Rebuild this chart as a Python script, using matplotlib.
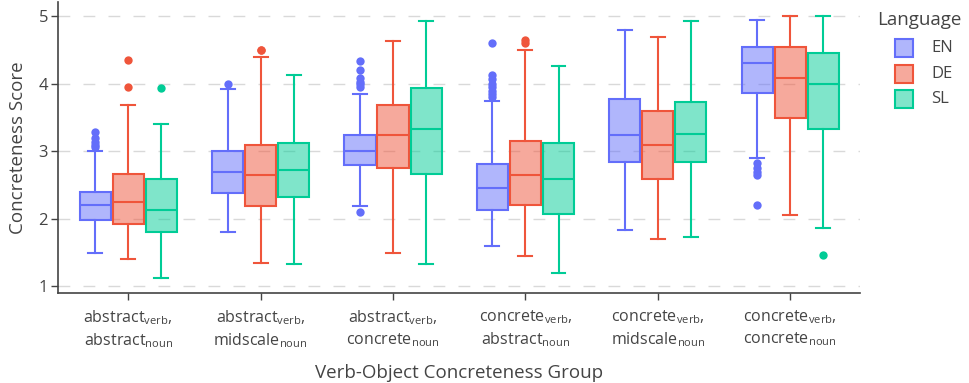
import matplotlib
matplotlib.use("Agg")
import matplotlib.pyplot as plt
from matplotlib.patches import Rectangle
import numpy as np

plt.rcParams['font.family'] = ['Open Sans', 'DejaVu Sans']
plt.rcParams['mathtext.fontset'] = 'custom'
plt.rcParams['mathtext.rm'] = 'Open Sans'

# ---- data ----
verb_groups = ["abstract", "abstract", "abstract", "concrete", "concrete", "concrete"]
noun_groups = ["abstract", "midscale", "concrete", "abstract", "midscale", "concrete"]
languages = ["EN", "DE", "SL"]
colors = ["#636EFA", "#EF553B", "#00CC96"]

en_q1 = [1.99, 2.38, 2.80, 2.13, 2.84, 3.87]
en_med = [2.20, 2.69, 3.00, 2.45, 3.24, 4.30]
en_q3 = [2.40, 3.00, 3.24, 2.81, 3.77, 4.55]
en_lo = [1.50, 1.80, 2.19, 1.60, 1.84, 2.90]
en_hi = [3.00, 3.92, 3.85, 3.75, 4.79, 4.95]
en_out = [[3.29, 3.20, 3.14, 3.10, 3.07],
          [4.00],
          [4.33, 4.20, 4.08, 4.03, 4.00, 3.95, 2.10],
          [4.60, 4.13, 4.07, 4.00, 3.95, 3.90, 3.85, 3.80],
          [],
          [2.82, 2.75, 2.70, 2.65, 2.20]]

de_q1 = [1.93, 2.19, 2.75, 2.20, 2.59, 3.50]
de_med = [2.25, 2.65, 3.24, 2.65, 3.10, 4.09]
de_q3 = [2.67, 3.10, 3.69, 3.15, 3.59, 4.55]
de_lo = [1.40, 1.35, 1.50, 1.45, 1.70, 2.05]
de_hi = [3.69, 4.39, 4.64, 4.50, 4.69, 5.00]
de_out = [[4.35, 3.95], [4.50, 4.50], [], [4.60, 4.65], [], []]

sl_q1 = [1.80, 2.33, 2.67, 2.07, 2.84, 3.33]
sl_med = [2.13, 2.72, 3.33, 2.59, 3.26, 3.99]
sl_q3 = [2.59, 3.13, 3.93, 3.13, 3.73, 4.46]
sl_lo = [1.13, 1.33, 1.33, 1.20, 1.73, 1.86]
sl_hi = [3.40, 4.13, 4.93, 4.26, 4.93, 5.00]
sl_out = [[3.93], [], [], [], [], [1.46]]

series = [
    (en_q1, en_med, en_q3, en_lo, en_hi, en_out),
    (de_q1, de_med, de_q3, de_lo, de_hi, de_out),
    (sl_q1, sl_med, sl_q3, sl_lo, sl_hi, sl_out),
]

tick_labels = [f"{v}$_{{\\mathregular{{verb}}}}$,\n{n}$_{{\\mathregular{{noun}}}}$"
               for v, n in zip(verb_groups, noun_groups)]

# ---- figure ----
W, H = 970, 383
fig = plt.figure(figsize=(9.7, 3.83), dpi=100)
ax = fig.add_axes([57.7 / W, 1 - 292.7 / H, (860 - 57.7) / W, (292.7 - 2) / H])

x = np.arange(len(verb_groups))
offsets = [-0.25, 0.0, 0.25]
box_w = 0.235

for (q1, med, q3, lo, hi, out), col, off in zip(series, colors, offsets):
    stats = []
    for i in range(len(x)):
        stats.append(dict(q1=q1[i], med=med[i], q3=q3[i], whislo=lo[i], whishi=hi[i],
                          fliers=np.array(out[i])))
    rgb = matplotlib.colors.to_rgb(col)
    ax.bxp(stats, positions=x + off, widths=box_w, capwidths=0.105,
           patch_artist=True, showfliers=True,
           boxprops=dict(facecolor=(*rgb, 0.5), edgecolor=col, linewidth=1.5),
           medianprops=dict(color=col, linewidth=1.5),
           whiskerprops=dict(color=col, linewidth=1.5),
           capprops=dict(color=col, linewidth=1.5),
           flierprops=dict(marker='o', markerfacecolor=col, markeredgewidth=0,
                           markersize=6),
           manage_ticks=False, zorder=3)

ax.set_xlim(-0.533, 5.527)
ax.set_ylim(0.907, 5.21)
ax.set_yticks([1, 2, 3, 4, 5])
ax.set_xticks(x)
ax.set_xticklabels(tick_labels, fontsize=11.5, color="#444444", linespacing=1.35)
ax.tick_params(axis='y', labelsize=12, colors="#444444", length=5, width=1, pad=2)
ax.tick_params(axis='x', length=5, width=1, colors="#444444", pad=6)

ax.yaxis.grid(True, color="#d9d9d9", linewidth=1, linestyle=(0, (8.5, 9.5)))
ax.set_axisbelow(True)
for s in ["top", "right"]:
    ax.spines[s].set_visible(False)
for s in ["left", "bottom"]:
    ax.spines[s].set_color("#444444")
    ax.spines[s].set_linewidth(1.2)

ax.set_xlabel("Verb-Object Concreteness Group", fontsize=13.5, color="#444444", labelpad=10)
ax.set_ylabel("Concreteness Score", fontsize=13.5, color="#444444", labelpad=8)

# ---- legend (drawn manually to match the indented layout) ----
fig.text(877 / W, 1 - 20 / H, "Language", fontsize=13.5, color="#444444",
         ha="left", va="center")
entry_y = [48, 73.5, 99]
for lang, col, yc in zip(languages, colors, entry_y):
    rgb = matplotlib.colors.to_rgb(col)
    fig.patches.append(Rectangle((895 / W, 1 - (yc + 9) / H), 18 / W, 18 / H,
                                 transform=fig.transFigure, facecolor=(*rgb, 0.5),
                                 edgecolor=col, linewidth=1.5))
    fig.text(931 / W, 1 - yc / H, lang, fontsize=12, color="#444444",
             ha="left", va="center")

fig.savefig("out.png", dpi=100)
